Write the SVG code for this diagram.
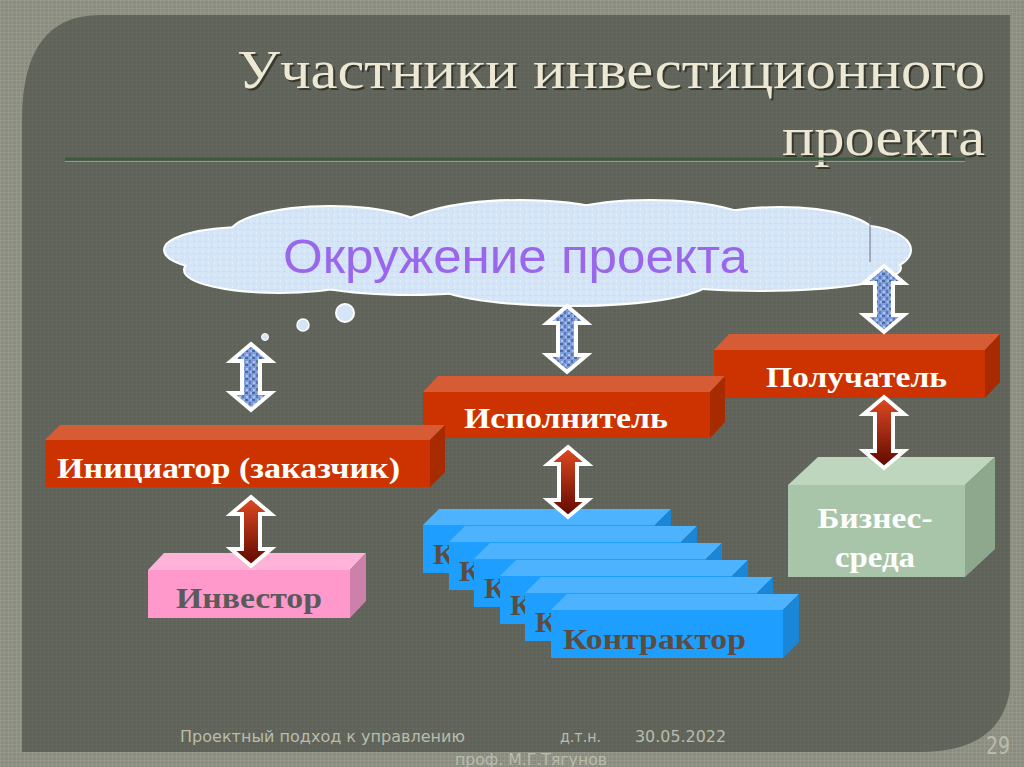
<svg xmlns="http://www.w3.org/2000/svg" width="1024" height="767" viewBox="0 0 1024 767">
<defs>
<pattern id="texOuter" width="4" height="4" patternUnits="userSpaceOnUse">
<rect width="4" height="4" fill="#8a8c7e"/>
<rect width="4" height="1" fill="#95978a"/>
<rect width="1" height="4" fill="#95978a"/>
</pattern>
<pattern id="texInner" width="4" height="4" patternUnits="userSpaceOnUse">
<rect width="4" height="4" fill="#5f6258"/>
<rect width="4" height="1" fill="#64675d"/>
<rect width="1" height="4" fill="#64675d"/>
</pattern>
<pattern id="blueTex" width="7" height="7" patternUnits="userSpaceOnUse">
<rect width="7" height="7" fill="#7f9dd6"/>
<rect x="0" y="0" width="3" height="2" fill="#4a68aa"/>
<rect x="4" y="3" width="2" height="3" fill="#5677bc"/>
<rect x="1" y="4" width="2" height="2" fill="#b0c6ee"/>
<rect x="5" y="0" width="2" height="2" fill="#a4bce8"/>
</pattern>
<pattern id="cloudTex" width="6" height="6" patternUnits="userSpaceOnUse">
<rect width="6" height="6" fill="#d3e5f6"/>
<rect x="1" y="1" width="2" height="1" fill="#c4daf0"/>
<rect x="4" y="4" width="1" height="2" fill="#e3eefa"/>
</pattern>
<linearGradient id="redGrad" x1="0" y1="0" x2="0" y2="1">
<stop offset="0" stop-color="#e04a22"/>
<stop offset="1" stop-color="#5e0800"/>
</linearGradient>
<style>
.title{font-family:"Liberation Serif","DejaVu Serif",serif;font-size:54px;}
.lbl{font-family:"Liberation Serif","Times New Roman",serif;font-weight:bold;font-size:30px;}
.foot{font-family:"DejaVu Sans Condensed","Liberation Sans",sans-serif;font-size:16px;fill:#b9bcab;}
.pg{font-family:"DejaVu Sans Condensed","Liberation Sans",sans-serif;font-size:24px;fill:#b9bcab;}
.arrW{stroke:#ffffff;stroke-width:4;stroke-linejoin:miter;}
.cl{fill:url(#cloudTex);}
.clo{fill:none;stroke:#ffffff;stroke-width:4;}
</style>
</defs>

<!-- background -->
<rect width="1024" height="767" fill="url(#texOuter)"/>
<path d="M22,120 Q22,15 100,15 L1010,15 L1010,690 Q1000,752 920,752 L22,752 Z" fill="url(#texInner)"/>

<!-- title -->
<g id="title">
<text class="title" x="987" y="90" text-anchor="end" fill="#2c2d26" opacity="0.8" textLength="748" lengthAdjust="spacingAndGlyphs">Участники инвестиционного</text>
<text class="title" x="985" y="88" text-anchor="end" fill="#ece8d3" textLength="748" lengthAdjust="spacingAndGlyphs">Участники инвестиционного</text>
<text class="title" x="987" y="157" text-anchor="end" fill="#2c2d26" opacity="0.8" textLength="203" lengthAdjust="spacingAndGlyphs">проекта</text>
<text class="title" x="985" y="155" text-anchor="end" fill="#ece8d3" textLength="203" lengthAdjust="spacingAndGlyphs">проекта</text>
<line x1="65" y1="159" x2="965" y2="159" stroke="#3e5a3c" stroke-width="3"/>
<line x1="65" y1="161.5" x2="965" y2="161.5" stroke="#8f9a88" stroke-width="1"/>
</g>

<!-- cloud -->
<g id="cloud">
<g class="clo">
<ellipse cx="245" cy="250" rx="80" ry="22"/>
<ellipse cx="280" cy="270" rx="95" ry="22"/>
<ellipse cx="330" cy="235" rx="100" ry="28"/>
<ellipse cx="520" cy="236" rx="125" ry="35"/>
<ellipse cx="650" cy="233" rx="115" ry="32"/>
<ellipse cx="780" cy="236" rx="95" ry="28"/>
<ellipse cx="855" cy="250" rx="55" ry="24"/>
<ellipse cx="570" cy="280" rx="140" ry="25"/>
<ellipse cx="410" cy="272" rx="120" ry="22"/>
<ellipse cx="760" cy="268" rx="140" ry="22"/>
</g>
<g class="cl">
<ellipse cx="245" cy="250" rx="80" ry="22"/>
<ellipse cx="280" cy="270" rx="95" ry="22"/>
<ellipse cx="330" cy="235" rx="100" ry="28"/>
<ellipse cx="520" cy="236" rx="125" ry="35"/>
<ellipse cx="650" cy="233" rx="115" ry="32"/>
<ellipse cx="780" cy="236" rx="95" ry="28"/>
<ellipse cx="855" cy="250" rx="55" ry="24"/>
<ellipse cx="570" cy="280" rx="140" ry="25"/>
<ellipse cx="410" cy="272" rx="120" ry="22"/>
<ellipse cx="760" cy="268" rx="140" ry="22"/>
<ellipse cx="560" cy="255" rx="300" ry="25"/>
</g>
<line x1="870" y1="216" x2="870" y2="262" stroke="#6a7080" stroke-width="1"/>
<circle cx="345" cy="313" r="9" fill="#d3e5f6" stroke="#ffffff" stroke-width="2"/>
<circle cx="303" cy="325" r="6" fill="#d3e5f6" stroke="#ffffff" stroke-width="1.5"/>
<circle cx="265" cy="337" r="3.5" fill="#d3e5f6" stroke="#ffffff" stroke-width="1"/>
<text x="283" y="273" font-family="Liberation Sans, Arial, sans-serif" font-size="48" fill="#9a66ec" textLength="465" lengthAdjust="spacingAndGlyphs">Окружение проекта</text>
</g>

<!-- Получатель -->
<g id="poluchatel">
<polygon points="714,350 729,334 1000,334 985,350" fill="#d65c36"/>
<polygon points="985,350 1000,334 1000,382 985,398" fill="#a82a00"/>
<rect x="714" y="350" width="271" height="48" fill="#cc3300"/>
<text class="lbl" x="766" y="387" fill="#ffffff" textLength="181" lengthAdjust="spacingAndGlyphs">Получатель</text>
</g>

<!-- Исполнитель -->
<g id="ispolnitel">
<polygon points="423,392 438,376 725,376 710,392" fill="#d65c36"/>
<polygon points="710,392 725,376 725,422 710,438" fill="#a82a00"/>
<rect x="423" y="392" width="287" height="46" fill="#cc3300"/>
<text class="lbl" x="464" y="428" fill="#ffffff" textLength="204" lengthAdjust="spacingAndGlyphs">Исполнитель</text>
</g>

<!-- Инициатор -->
<g id="initiator">
<polygon points="45,440 60,425 445,425 430,440" fill="#d65c36"/>
<polygon points="430,440 445,425 445,472 430,487" fill="#a82a00"/>
<rect x="45" y="440" width="385" height="47" fill="#cc3300"/>
<text class="lbl" x="57" y="478" fill="#ffffff" textLength="343" lengthAdjust="spacingAndGlyphs">Инициатор (заказчик)</text>
</g>

<!-- Инвестор -->
<g id="investor">
<polygon points="148,570 164,553 366,553 350,570" fill="#ffb3d9"/>
<polygon points="350,570 366,553 366,601 350,618" fill="#cc80aa"/>
<rect x="148" y="570" width="202" height="48" fill="#ff99cc"/>
<text class="lbl" x="176" y="608" fill="#5a5a5a" textLength="146" lengthAdjust="spacingAndGlyphs">Инвестор</text>
</g>

<!-- Бизнес-среда -->
<g id="biznes">
<polygon points="788,485 818,457 995,457 965,485" fill="#bdd6bd"/>
<polygon points="965,485 995,457 995,549 965,577" fill="#8ea88e"/>
<rect x="788" y="485" width="177" height="92" fill="#a9c5a9"/>
<text class="lbl" x="875" y="528" text-anchor="middle" fill="#ffffff" textLength="115" lengthAdjust="spacingAndGlyphs">Бизнес-</text>
<text class="lbl" x="875" y="567" text-anchor="middle" fill="#ffffff" textLength="80" lengthAdjust="spacingAndGlyphs">среда</text>
</g>

<!-- Контракторы -->
<g id="contractor1">
<polygon points="423,525 439,509 671,509 655,525" fill="#4db3ff"/>
<polygon points="655,525 671,509 671,557 655,573" fill="#1a86d8"/>
<rect x="423" y="525" width="232" height="48" fill="#1e9fff"/>
<text class="lbl" x="433" y="564" fill="#5a4d40">К</text>
</g>
<g id="contractor2">
<polygon points="449,542 465,526 697,526 681,542" fill="#4db3ff"/>
<polygon points="681,542 697,526 697,574 681,590" fill="#1a86d8"/>
<rect x="449" y="542" width="232" height="48" fill="#1e9fff"/>
<text class="lbl" x="459" y="581" fill="#5a4d40">К</text>
</g>
<g id="contractor3">
<polygon points="474,559 490,543 722,543 706,559" fill="#4db3ff"/>
<polygon points="706,559 722,543 722,591 706,607" fill="#1a86d8"/>
<rect x="474" y="559" width="232" height="48" fill="#1e9fff"/>
<text class="lbl" x="484" y="598" fill="#5a4d40">К</text>
</g>
<g id="contractor4">
<polygon points="500,576 516,560 748,560 732,576" fill="#4db3ff"/>
<polygon points="732,576 748,560 748,608 732,624" fill="#1a86d8"/>
<rect x="500" y="576" width="232" height="48" fill="#1e9fff"/>
<text class="lbl" x="510" y="615" fill="#5a4d40">К</text>
</g>
<g id="contractor5">
<polygon points="525,593 541,577 773,577 757,593" fill="#4db3ff"/>
<polygon points="757,593 773,577 773,625 757,641" fill="#1a86d8"/>
<rect x="525" y="593" width="232" height="48" fill="#1e9fff"/>
<text class="lbl" x="535" y="632" fill="#5a4d40">К</text>
</g>
<g id="contractor6">
<polygon points="551,610 567,594 799,594 783,610" fill="#4db3ff"/>
<polygon points="783,610 799,594 799,642 783,658" fill="#1a86d8"/>
<rect x="551" y="610" width="232" height="48" fill="#1e9fff"/>
<text class="lbl" x="563" y="649" fill="#5a4d40" textLength="183" lengthAdjust="spacingAndGlyphs">Контрактор</text>
</g>

<!-- connectors -->
<g id="connectors" class="arrW">
<path fill="url(#blueTex)" d="M251,344 L271,361 L260,361 L260,393 L271,393 L251,410 L231,393 L242,393 L242,361 L231,361 Z"/>
<path fill="url(#blueTex)" d="M567,306 L587,323 L576,323 L576,355 L587,355 L567,372 L547,355 L558,355 L558,323 L547,323 Z"/>
<path fill="url(#blueTex)" d="M884,266 L904,283 L893,283 L893,315 L904,315 L884,332 L864,315 L875,315 L875,283 L864,283 Z"/>
<path fill="url(#redGrad)" d="M251,497 L271,514 L260,514 L260,549 L271,549 L251,566 L231,549 L242,549 L242,514 L231,514 Z"/>
<path fill="url(#redGrad)" d="M568,447 L588,464 L577,464 L577,500 L588,500 L568,517 L548,500 L559,500 L559,464 L548,464 Z"/>
<path fill="url(#redGrad)" d="M884,397 L904,414 L893,414 L893,451 L904,451 L884,468 L864,451 L875,451 L875,414 L864,414 Z"/>
</g>

<!-- footer -->
<g id="footer">
<text class="foot" x="180" y="742" textLength="285" lengthAdjust="spacingAndGlyphs">Проектный подход к управлению</text>
<text class="foot" x="560" y="742" textLength="41" lengthAdjust="spacingAndGlyphs">д.т.н.</text>
<text class="foot" x="635" y="742" textLength="91" lengthAdjust="spacingAndGlyphs">30.05.2022</text>
<text class="foot" x="455" y="765" textLength="152" lengthAdjust="spacingAndGlyphs">проф. М.Г.Тягунов</text>
<text class="pg" x="1010" y="754" text-anchor="end" textLength="24" lengthAdjust="spacingAndGlyphs">29</text>
</g>
</svg>
